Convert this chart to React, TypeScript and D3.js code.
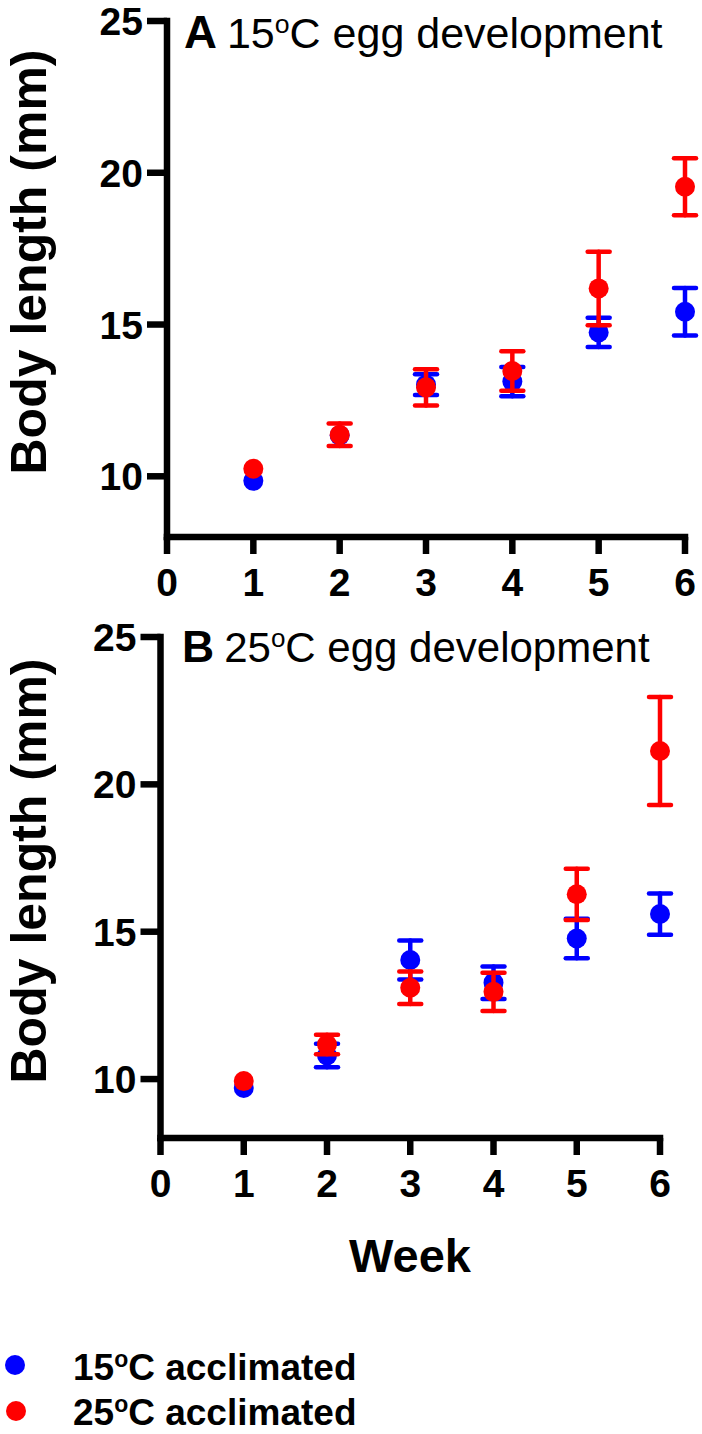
import React from "react";
import * as d3 from "d3";

const weeks = [1, 2, 3, 4, 5, 6];
const xTicks = [0, 1, 2, 3, 4, 5, 6];
const yTicks = [10, 15, 20, 25];

// Panel A: 15°C egg development
const a15Mean = [9.85, 11.35, 13.02, 13.12, 14.74, 15.42];
const a15Err = [0.1, 0.12, 0.34, 0.48, 0.48, 0.78];
const a25Mean = [10.25, 11.37, 12.93, 13.47, 16.19, 19.54];
const a25Err = [0.1, 0.37, 0.6, 0.65, 1.21, 0.94];

// Panel B: 25°C egg development
const b15Mean = [9.7, 10.8, 14.04, 13.27, 14.77, 15.6];
const b15Err = [0.1, 0.4, 0.66, 0.55, 0.67, 0.7];
const b25Mean = [9.93, 11.17, 13.1, 12.96, 16.27, 21.13];
const b25Err = [0.1, 0.33, 0.55, 0.65, 0.87, 1.83];

const BLUE = "#0000ff";
const RED = "#ff0000";
const FONT = "'Liberation Sans', Arial, Helvetica, sans-serif";
const R = 10;

type Series = { mean: number[]; err: number[]; color: string };

type PanelProps = {
  x0: number;
  x1: number;
  yTop: number;
  yBottom: number;
  letter: string;
  tempLabel: string;
  titleX: number;
  titleBaseline: number;
  titleSize: number;
  series: Series[];
  labelY: number;
};

function Panel(p: PanelProps) {
  const x = d3.scaleLinear().domain([0, 6]).range([p.x0, p.x1]);
  const y = d3.scaleLinear().domain([8, 25]).range([p.yBottom, p.yTop]);
  const axisW = 6.5;
  const tickLen = 17;
  return (
    <g>
      <line x1={x(0)} x2={x(0)} y1={y(25) - axisW / 2} y2={y(8) + axisW / 2} stroke="#000" strokeWidth={axisW} />
      <line x1={x(0) - axisW / 2} x2={x(6) + axisW / 2} y1={y(8)} y2={y(8)} stroke="#000" strokeWidth={axisW} />
      {yTicks.map((t) => (
        <g key={"yt" + t}>
          <line x1={x(0) - tickLen - 3} x2={x(0)} y1={y(t)} y2={y(t)} stroke="#000" strokeWidth={axisW} />
          <text
            x={x(0) - 24}
            y={y(t)}
            dy="0.36em"
            textAnchor="end"
            fontFamily={FONT}
            fontWeight="bold"
            fontSize={39}
          >
            {t}
          </text>
        </g>
      ))}
      {xTicks.map((t) => (
        <g key={"xt" + t}>
          <line x1={x(t)} x2={x(t)} y1={y(8)} y2={y(8) + tickLen} stroke="#000" strokeWidth={axisW} />
          <text
            x={x(t)}
            y={y(8) + 59}
            textAnchor="middle"
            fontFamily={FONT}
            fontWeight="bold"
            fontSize={39}
          >
            {t}
          </text>
        </g>
      ))}
      <text
        transform={`translate(46, ${p.labelY}) rotate(-90)`}
        textAnchor="middle"
        fontFamily={FONT}
        fontWeight="bold"
        fontSize={50}
      >
        Body length (mm)
      </text>
      <text x={p.titleX} y={p.titleBaseline} fontFamily={FONT} fontSize={p.titleSize}>
        <tspan fontWeight="bold" fontSize={p.titleSize * 1.06}>{p.letter}</tspan>
        <tspan dx={10}>{p.tempLabel}</tspan>
        <tspan fontSize={p.titleSize * 0.62} dy={-p.titleSize * 0.36}>o</tspan>
        <tspan dy={p.titleSize * 0.36}>C egg development</tspan>
      </text>
      {p.series.map((s, si) => (
        <g key={"s" + si}>
          {weeks.map((w, i) => {
            const cx = x(w);
            const top = y(s.mean[i] + s.err[i]);
            const bot = y(s.mean[i] - s.err[i]);
            // bars that are too short to show past the symbol are not drawn
            if ((bot - top) / 2 < 5) return null;
            return (
              <g key={"e" + i} stroke={s.color} strokeWidth={4.5} strokeLinecap="round">
                <line x1={cx} x2={cx} y1={top} y2={bot} />
                <line x1={cx - 11} x2={cx + 11} y1={top} y2={top} />
                <line x1={cx - 11} x2={cx + 11} y1={bot} y2={bot} />
              </g>
            );
          })}
          {weeks.map((w, i) => (
            <circle key={"c" + i} cx={x(w)} cy={y(s.mean[i])} r={R} fill={s.color} />
          ))}
        </g>
      ))}
    </g>
  );
}

export default function App() {
  return (
    <svg
      width={702}
      height={1434}
      viewBox="0 0 702 1434"
      style={{ position: "absolute", left: 0, top: 0, background: "#fff" }}
    >
      <rect x={0} y={0} width={702} height={1434} fill="#fff" />
      <Panel
        x0={167}
        x1={685}
        yTop={21}
        yBottom={537}
        letter="A"
        tempLabel="15"
        titleX={184}
        titleBaseline={48}
        titleSize={43}
        labelY={262}
        series={[
          { mean: a15Mean, err: a15Err, color: BLUE },
          { mean: a25Mean, err: a25Err, color: RED },
        ]}
      />
      <Panel
        x0={160.5}
        x1={660}
        yTop={637}
        yBottom={1138}
        letter="B"
        tempLabel="25"
        titleX={182}
        titleBaseline={662}
        titleSize={42}
        labelY={871}
        series={[
          { mean: b15Mean, err: b15Err, color: BLUE },
          { mean: b25Mean, err: b25Err, color: RED },
        ]}
      />
      <text x={410} y={1272} textAnchor="middle" fontFamily={FONT} fontWeight="bold" fontSize={47}>
        Week
      </text>
      <circle cx={15} cy={1365} r={R} fill={BLUE} />
      <circle cx={16} cy={1411} r={R} fill={RED} />
      <text x={73} y={1380} fontFamily={FONT} fontWeight="bold" fontSize={37}>
        <tspan>15</tspan>
        <tspan fontSize={23} dy={-13}>o</tspan>
        <tspan dy={13}>C acclimated</tspan>
      </text>
      <text x={73} y={1425} fontFamily={FONT} fontWeight="bold" fontSize={37}>
        <tspan>25</tspan>
        <tspan fontSize={23} dy={-13}>o</tspan>
        <tspan dy={13}>C acclimated</tspan>
      </text>
    </svg>
  );
}
